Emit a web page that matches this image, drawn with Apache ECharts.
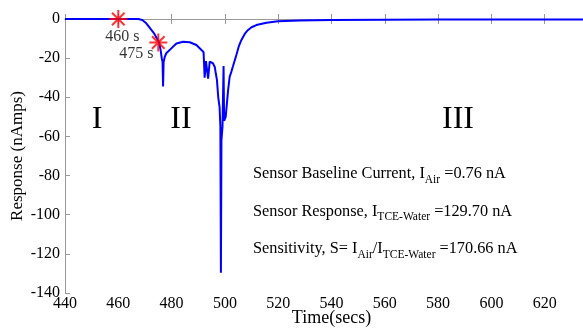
<!DOCTYPE html>
<html><head><meta charset="utf-8">
<script src="https://cdn.jsdelivr.net/npm/echarts@6/dist/echarts.min.js"></script>
<style>html,body{margin:0;padding:0;background:#fff}#c{width:583px;height:329px}</style>
</head><body><div id="c"></div>
<script>
// ---- data ----
const timeSecs = [440, 450, 460, 465, 467.5, 469, 470.5, 472.4, 473.5, 474.5, 475.3, 475.9, 476.3, 476.6, 476.8, 477.0, 477.4, 478.0, 479.9, 481.8, 484.3, 486.8, 489.3, 491.2, 492.0, 492.4, 492.9, 493.7, 494.3, 495.5, 496.2, 496.6, 497.0, 497.5, 498.0, 498.3, 498.5, 498.7, 499.1, 499.5, 499.7, 500.3, 501.2, 501.8, 502.4, 503.0, 504.3, 505.2, 506.2, 507.5, 508.7, 510.0, 511.8, 515.6, 519.9, 528, 540, 560, 580, 600, 620, 640];
const responseNA = [0, 0, 0, 0, 0, -0.5, -2.2, -5.6, -7.5, -10, -12, -16, -20, -22, -34.5, -22, -19.5, -17.5, -15, -12.5, -11.6, -11.9, -13.3, -15.8, -17, -30, -21.5, -30.5, -21.8, -22.6, -24.5, -28, -31, -40, -45, -55, -129.7, -62, -55, -24, -52, -50, -36.3, -29.5, -27, -24.3, -18.4, -14, -10.7, -7.5, -5.6, -4.2, -3.1, -1.9, -1.1, -0.8, -0.5, -0.4, -0.3, -0.25, -0.2, -0.2];
const markerTimes = [460, 475];
const markerValues = [0, -12];
const markerLabels = ['460 s', '475 s'];
const regionLabels = ['I', 'II', 'III'];
const xAxisTitle = 'Time(secs)';
const yAxisTitle = 'Response (nAmps)';
const infoLines = [
  [{t: 'Sensor Baseline Current, I'}, {t: 'Air', sub: true}, {t: ' =0.76 nA'}],
  [{t: 'Sensor Response, I'}, {t: 'TCE-Water', sub: true}, {t: ' =129.70 nA'}],
  [{t: 'Sensitivity, S= I'}, {t: 'Air', sub: true}, {t: '/I'}, {t: 'TCE-Water', sub: true}, {t: ' =170.66 nA'}]
];

// ---- chart ----
const FONT = '"Liberation Serif", "Times New Roman", serif';
const AX = '#999999';
const chart = echarts.init(document.getElementById('c'), null, {renderer: 'canvas'});
const cv = document.createElement('canvas').getContext('2d');
function w(txt, size) { cv.font = size + 'px ' + FONT; return cv.measureText(txt).width; }

const graphics = [];
const lineX = 253, lineY0 = 174, lineGap = 37.3;
infoLines.forEach((segs, li) => {
  let cx = lineX;
  const yc = lineY0 + li * lineGap;
  segs.forEach(s => {
    const size = s.sub ? 11.5 : 16.3;
    graphics.push({type: 'text', x: cx, y: yc + (s.sub ? 6 : 0), silent: true,
      style: {text: s.t, font: size + 'px ' + FONT, fill: '#000', align: 'left', verticalAlign: 'middle', textAlign: 'left', textVerticalAlign: 'middle'}});
    cx += w(s.t, size);
  });
});
const romanPos = [[97, 120], [181, 120], [458, 120]];
regionLabels.forEach((r, i) => {
  graphics.push({type: 'text', x: romanPos[i][0], y: romanPos[i][1], silent: true,
    style: {text: r, font: '32px ' + FONT, fill: '#000', align: 'center', verticalAlign: 'middle', textAlign: 'center', textVerticalAlign: 'middle'}});
});

const starPath = 'path://M0,-10L0,10M-10,0L10,0M-7,-7L7,7M-7,7L7,-7';
const labelOffsets = [[4, 18], [-22, 11]];

const axisCommon = {
  type: 'value', min: 440, max: 640, interval: 20,
  axisLine: {show: true, lineStyle: {color: AX, width: 1}},
  axisTick: {show: true, inside: true, length: 5, lineStyle: {color: AX}},
  splitLine: {show: false}
};

chart.setOption({
  animation: false,
  backgroundColor: '#fff',
  grid: {left: 65, top: 19, height: 274, width: 533, containLabel: false, outerBoundsMode: 'none'},
  xAxis: [
    Object.assign({}, axisCommon, {position: 'bottom', name: xAxisTitle, nameLocation: 'middle', nameGap: 16, nameMoveOverlap: false,
      nameTextStyle: {fontFamily: FONT, fontSize: 18, color: '#000'},
      axisLabel: {fontFamily: FONT, fontSize: 16, color: '#000', margin: 3}}),
    Object.assign({}, axisCommon, {position: 'top', axisLabel: {show: false}})
  ],
  yAxis: {
    type: 'value', min: -140, max: 0, interval: 20,
    name: yAxisTitle, nameLocation: 'middle', nameGap: 39, nameMoveOverlap: false,
    nameTextStyle: {fontFamily: FONT, fontSize: 17, color: '#000'},
    axisLine: {show: true, lineStyle: {color: AX, width: 1}},
    axisTick: {show: true, inside: true, length: 5, lineStyle: {color: AX}},
    splitLine: {show: false},
    axisLabel: {fontFamily: FONT, fontSize: 16, color: '#000', margin: 5}
  },
  series: [
    {type: 'line', data: timeSecs.map((t, i) => [t, responseNA[i]]), showSymbol: false, symbol: 'none',
      lineStyle: {color: '#0000ff', width: 2}, z: 2},
    {type: 'scatter', z: 3, symbol: starPath, symbolSize: 18,
      itemStyle: {color: 'rgba(0,0,0,0)', borderColor: '#ff0000', borderWidth: 2},
      data: markerTimes.map((t, i) => ({name: markerLabels[i], value: [t, markerValues[i]],
        label: {show: true, position: 'inside', offset: labelOffsets[i], formatter: '{b}',
          fontFamily: FONT, fontSize: 16, color: '#000'}}))}
  ],
  graphic: graphics
});
</script></body></html>
